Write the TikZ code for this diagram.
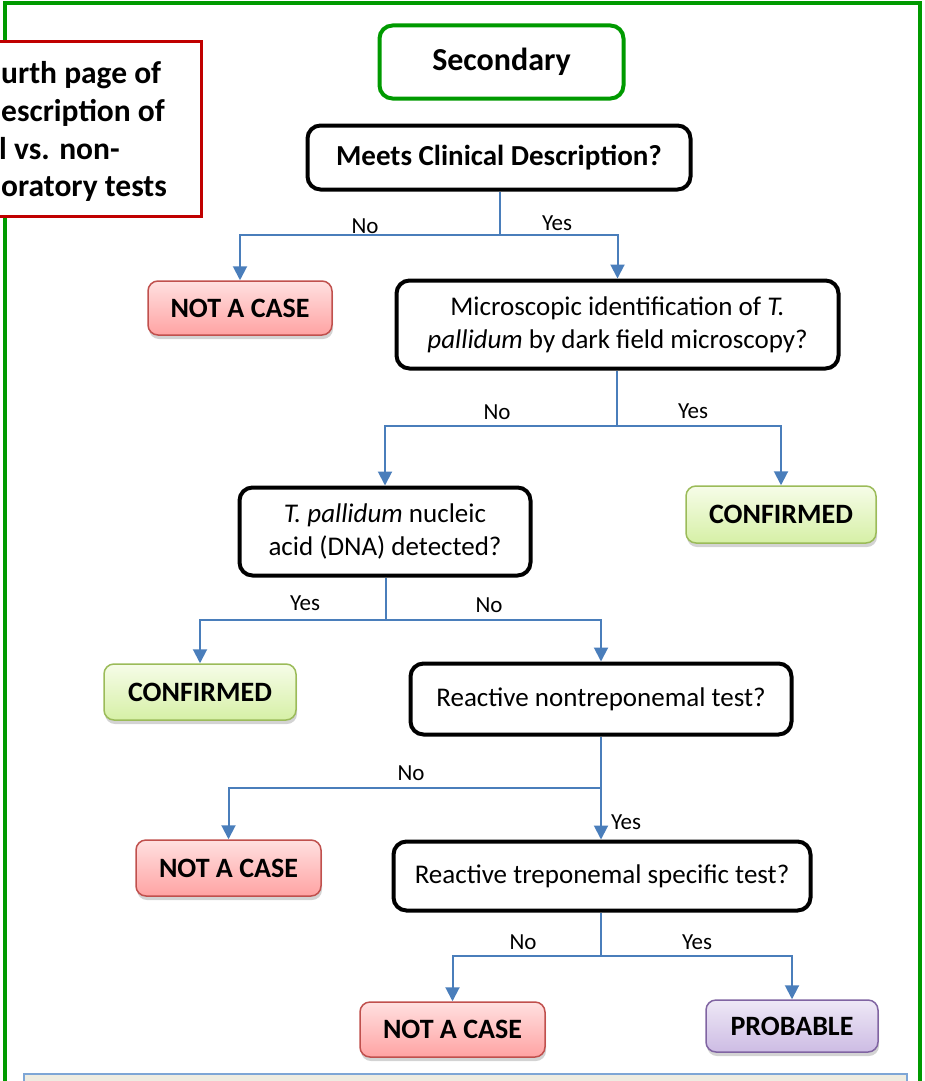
\documentclass[tikz,border=0pt]{standalone}
\usepackage{fontspec}
\setmainfont{Carlito}
\usetikzlibrary{arrows.meta,shadows}
\definecolor{frameg}{HTML}{009A00}
\definecolor{notered}{HTML}{C00000}
\definecolor{conn}{HTML}{4A7EBB}
\definecolor{redtop}{HTML}{FFE0E0}
\definecolor{redbot}{HTML}{FFA3A3}
\definecolor{redline}{HTML}{C0504D}
\definecolor{grntop}{HTML}{F6FCE8}
\definecolor{grnbot}{HTML}{D6F0A6}
\definecolor{grnline}{HTML}{9BBB59}
\definecolor{purtop}{HTML}{EEE8F6}
\definecolor{purbot}{HTML}{CDBCE4}
\definecolor{purline}{HTML}{8064A2}
\definecolor{beige}{HTML}{EEECE1}
\definecolor{beigeline}{HTML}{7EA6D6}
\begin{document}
\begin{tikzpicture}[x=1pt,y=-1pt,
  qbox/.style={draw=black, line width=4pt, rounded corners=13pt, fill=white,
    align=center, inner sep=0pt, font=\fontsize{27}{33}\selectfont},
  outbox/.style={line width=1.5pt, rounded corners=10pt, inner sep=0pt,
    font=\bfseries\fontsize{28}{30}\selectfont,
    drop shadow={opacity=0.35, shadow xshift=1pt, shadow yshift=-4pt}},
  redbox/.style={outbox, draw=redline, top color=redtop, bottom color=redbot},
  grnbox/.style={outbox, draw=grnline, top color=grntop, bottom color=grnbot},
  purbox/.style={outbox, draw=purline, top color=purtop, bottom color=purbot},
  line/.style={draw=conn, line width=2pt},
  arr/.style={line, -{Triangle[width=14pt,length=14pt]}},
  lbl/.style={font=\fontsize{23}{26}\selectfont, inner sep=0pt},
  notel/.style={anchor=base west, inner sep=0pt, font=\bfseries\fontsize{31.5}{36}\selectfont},
]
\useasboundingbox (0,0) rectangle (924,1081);
% outer frame
\draw[frameg, line width=4pt] (5,3) rectangle (920,1110);
% bottom note
\draw[beigeline, fill=beige, line width=1.5pt] (24,1074) rectangle (907,1110);
% red note box (partly off page)
\node[draw=notered, line width=3pt, fill=white, minimum width=230pt, minimum height=175pt, inner sep=0pt] (note) at (86,129) {};
\node[notel] (n1) at (1,84) {urth page of};
\node[notel] (n2) at (1,121.5) {escription of};
\node[notel] (n3) at (-1,159) {l vs. non-};
\node[notel] (n4) at (1,196.5) {oratory tests};

% nodes
\node[qbox, draw=frameg, font=\bfseries\fontsize{32}{36}\selectfont, minimum width=244pt, minimum height=73pt] (sec) at (501.5,62) {Secondary};
\node[qbox, font=\bfseries\fontsize{29}{33}\selectfont, minimum width=383pt, minimum height=64pt] (meets) at (499,157.5) {Meets Clinical Description?};
\node[redbox, minimum width=184pt, minimum height=54pt] (nac1) at (240,308) {NOT A CASE};
\node[qbox, minimum width=442pt, minimum height=88pt] (micro) at (617.5,324.5) {Microscopic identification of \textit{T.}\\\textit{pallidum} by dark field microscopy?};
\node[qbox, minimum width=291pt, minimum height=88pt] (dna) at (385,531.5) {\textit{T. pallidum} nucleic\\acid (DNA) detected?};
\node[grnbox, minimum width=190pt, minimum height=57pt] (conf1) at (781,514.5) {CONFIRMED};
\node[grnbox, minimum width=192pt, minimum height=56pt] (conf2) at (200,692) {CONFIRMED};
\node[qbox, minimum width=381pt, minimum height=71pt] (nontrep) at (601,699) {Reactive nontreponemal test?};
\node[redbox, minimum width=185pt, minimum height=56pt] (nac2) at (228.5,868) {NOT A CASE};
\node[qbox, minimum width=417pt, minimum height=69pt] (trep) at (602,876) {Reactive treponemal specific test?};
\node[redbox, minimum width=185pt, minimum height=55pt] (nac3) at (452.5,1029.5) {NOT A CASE};
\node[purbox, minimum width=172pt, minimum height=52pt] (prob) at (792,1026) {PROBABLE};

% connectors
\coordinate (j1) at (500,235);
\draw[line] (meets.south -| j1) -- (j1);
\draw[arr] (j1) -| (nac1.north);
\draw[arr] (j1) -| (micro.north);
\node[lbl] (l1) at (365,226) {No};
\node[lbl] (l2) at (557,223) {Yes};

\coordinate (j2) at (617,426);
\draw[line] (micro.south -| j2) -- (j2);
\draw[arr] (j2) -| (dna.north);
\draw[arr] (j2) -| (conf1.north);
\node[lbl] (l3) at (497,412) {No};
\node[lbl] (l4) at (693,411) {Yes};

\coordinate (j3) at (386,620);
\draw[line] (dna.south -| j3) -- (j3);
\draw[arr] (j3) -| (conf2.north);
\draw[arr] (j3) -| (nontrep.north);
\node[lbl] (l5) at (305,603) {Yes};
\node[lbl] (l6) at (489,605) {No};

\coordinate (j4) at (601,788);
\draw[arr] (nontrep.south) -- (trep.north -| nontrep.south);
\draw[arr] (j4) -| (nac2.north);
\node[lbl] (l7) at (411,773) {No};
\node[lbl] (l8) at (626,822) {Yes};

\coordinate (j5) at (601,956);
\draw[line] (trep.south -| j5) -- (j5);
\draw[arr] (j5) -| (nac3.north);
\draw[arr] (j5) -| (prob.north);
\node[lbl] (l9) at (523,942) {No};
\node[lbl] (l10) at (697,942) {Yes};
\end{tikzpicture}
\end{document}
